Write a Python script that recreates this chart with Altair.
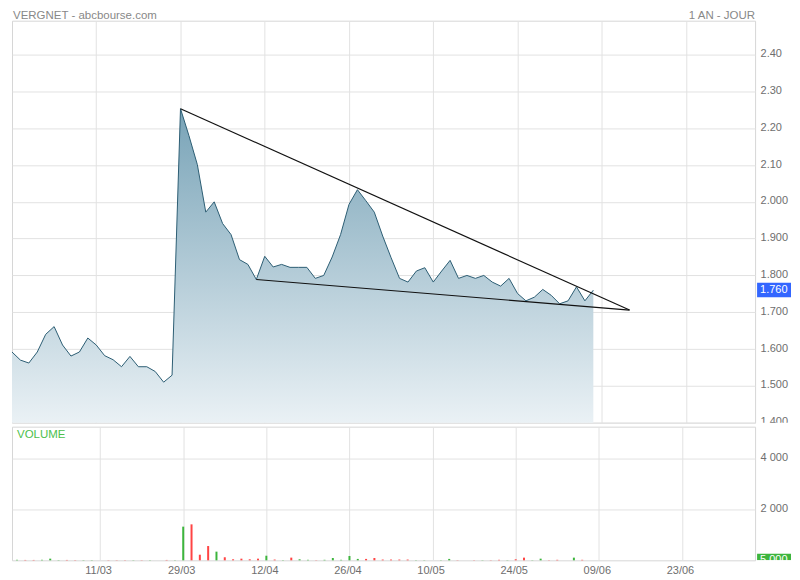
import altair as alt
import pandas as pd

# ---------------- data ----------------
prices = [1.592, 1.570, 1.562, 1.592, 1.640, 1.661, 1.611, 1.581, 1.592, 1.630,
          1.611, 1.582, 1.571, 1.552, 1.580, 1.552, 1.552, 1.539, 1.510, 1.529,
          2.253, 2.180, 2.101, 1.972, 2.000, 1.941, 1.911, 1.843, 1.830, 1.789,
          1.852, 1.823, 1.830, 1.822, 1.822, 1.822, 1.792, 1.800, 1.850, 1.911,
          1.993, 2.033, 2.003, 1.972, 1.907, 1.848, 1.792, 1.782, 1.812, 1.821,
          1.782, 1.812, 1.841, 1.792, 1.800, 1.792, 1.800, 1.782, 1.771, 1.792,
          1.751, 1.731, 1.741, 1.762, 1.746, 1.723, 1.731, 1.769, 1.731, 1.760]

volumes = [20, 15, 15, 20, 65, 10, 15, 15, 10, 10,
           0, 8, 8, 8, 8, 8, 8, 0, 15, 8,
           1320, 1410, 220, 560, 340, 120, 40, 65, 40, 65,
           180, 30, 10, 105, 40, 20, 8, 20, 90, 20,
           170, 55, 55, 90, 30, 30, 30, 30, 8, 8,
           0, 8, 55, 8, 0, 8, 8, 8, 20, 8,
           40, 105, 8, 65, 8, 20, 0, 105, 20, 0]

date_ticks = [10, 20, 30, 40, 50, 60, 70, 80]
date_labels = ["11/03", "29/03", "12/04", "26/04", "10/05", "24/05", "09/06", "23/06"]

price_ticks = [1.4, 1.5, 1.6, 1.7, 1.8, 1.9, 2.0, 2.1, 2.2, 2.3, 2.4]
price_labels = ["1.400", "1.500", "1.600", "1.700", "1.800", "1.900", "2.000",
                "2.10", "2.20", "2.30", "2.40"]

vol_ticks = [2000, 4000]
vol_labels = ["2 000", "4 000"]

upper_trend_x = [20, 73.3]
upper_trend_y = [2.253, 1.706]
lower_trend_x = [29, 73.3]
lower_trend_y = [1.789, 1.706]

header_left = "VERGNET - abcbourse.com"
header_right = "1 AN - JOUR"
volume_title = "VOLUME"
last_price_label = "1.760"
last_volume_label = "5 000"

# ---------------- tables ----------------
idx = list(range(len(prices)))
direction = ["up"] + ["up" if prices[k] >= prices[k - 1] else "down" for k in range(1, len(prices))]
df = pd.DataFrame({"i": idx, "price": prices, "vol": volumes, "dir": direction})
trend_df = pd.DataFrame({
    "x": [upper_trend_x[0], lower_trend_x[0]],
    "x2": [upper_trend_x[1], lower_trend_x[1]],
    "y": [upper_trend_y[0], lower_trend_y[0]],
    "y2": [upper_trend_y[1], lower_trend_y[1]],
})
one = pd.DataFrame({"k": [0]})

FONT = "Liberation Sans"
GRID = "#e2e2e2"
LABEL = "#6e6e6e"

W = 745
H_PRICE = 403
H_VOL = 134
BOX_R = W + 36

x_scale = alt.Scale(domain=[0, 88.2], nice=False, zero=False)
price_scale = alt.Scale(domain=[1.4, 1.4 + H_PRICE / 369], nice=False, zero=False)
vol_scale = alt.Scale(domain=[0, 5240], nice=False)

x_axis_top = alt.Axis(values=date_ticks, labels=False, ticks=False, domain=False,
                      grid=True, gridColor=GRID, title=None)
date_expr = "[" + ",".join("'" + s + "'" for s in date_labels) + "][round(datum.value/10) - 1]"
x_axis_bottom = alt.Axis(values=date_ticks, labelExpr=date_expr, ticks=False, domain=False,
                         grid=True, gridColor=GRID, title=None, labelPadding=4,
                         labelFontSize=11, labelColor=LABEL, labelFont=FONT,
                         labelFlush=False, labelOffset=-2)
price_expr = "[" + ",".join("'" + s + "'" for s in price_labels) + "][round(datum.value*10) - 14]"
y_axis_price = alt.Axis(orient="right", values=price_ticks, labelExpr=price_expr, ticks=False,
                        domain=False, grid=True, gridColor=GRID, title=None, labelPadding=5,
                        labelFontSize=11, labelColor=LABEL, labelFont=FONT, labelAlign="left",
                        labelBaseline="middle", labelOffset=-1)
vol_expr = "[" + ",".join("'" + s + "'" for s in vol_labels) + "][round(datum.value/2000) - 1]"
y_axis_vol = alt.Axis(orient="right", values=vol_ticks, labelExpr=vol_expr, ticks=False,
                      domain=False, grid=True, gridColor=GRID, title=None, labelPadding=5,
                      labelFontSize=11, labelColor=LABEL, labelFont=FONT, labelAlign="left",
                      labelBaseline="middle", labelOffset=-1)

gradient = alt.Gradient(
    gradient="linear",
    stops=[alt.GradientStop(color="#78a3b7", offset=0),
           alt.GradientStop(color="#eaf1f5", offset=1)],
    x1=1, x2=1, y1=0, y2=1,
)

base = alt.Chart(df)
area = base.mark_area(color=gradient, opacity=1).encode(
    x=alt.X("i:Q", scale=x_scale, axis=x_axis_top),
    y=alt.Y("price:Q", scale=price_scale, axis=y_axis_price),
    y2=alt.datum(1.4),
)
line = base.mark_line(color="#2c5d73", strokeWidth=1).encode(
    x=alt.X("i:Q", scale=x_scale, axis=x_axis_top),
    y=alt.Y("price:Q", scale=price_scale, axis=y_axis_price),
)
trend = alt.Chart(trend_df).mark_rule(color="#111111", strokeWidth=1.2).encode(
    x=alt.X("x:Q", scale=x_scale, axis=x_axis_top),
    x2="x2:Q",
    y=alt.Y("y:Q", scale=price_scale, axis=y_axis_price),
    y2="y2:Q",
)
last_box = alt.Chart(one).mark_rect(color="#3366ff").encode(
    x=alt.value(W + 2), x2=alt.value(BOX_R),
    y=alt.datum(prices[-1] + 0.02), y2=alt.datum(prices[-1] - 0.0195),
)
last_text = alt.Chart(one).mark_text(align="left", baseline="middle", color="white",
                                     fontSize=11, font=FONT, text=last_price_label).encode(
    x=alt.value(W + 5), y=alt.datum(prices[-1]),
)
head_l = alt.Chart(one).mark_text(align="left", baseline="alphabetic", color="#888888",
                                  fontSize=11.5, font=FONT, text=header_left).encode(
    x=alt.value(1), y=alt.value(-2),
)
head_r = alt.Chart(one).mark_text(align="right", baseline="alphabetic", color="#888888",
                                  fontSize=11.5, font=FONT, text=header_right).encode(
    x=alt.value(W), y=alt.value(-2),
)

price_chart = alt.layer(area, line, trend, last_box, last_text, head_l, head_r).properties(
    width=W, height=H_PRICE)

bars = base.mark_bar(size=2).encode(
    x=alt.X("i:Q", scale=x_scale, axis=x_axis_bottom),
    y=alt.Y("vol:Q", scale=vol_scale, axis=y_axis_vol),
    color=alt.Color("dir:N", scale=alt.Scale(domain=["up", "down"], range=["#3db53d", "#ff4444"]),
                    legend=None),
)
vol_title = alt.Chart(one).mark_text(align="left", baseline="middle", color="#4cc04c",
                                     fontSize=11.5, font=FONT, text=volume_title).encode(
    x=alt.value(5), y=alt.value(8),
)
cover_top = alt.Chart(one).mark_rect(color="white").encode(
    x=alt.value(W + 2), x2=alt.value(BOX_R), y=alt.value(-4), y2=alt.value(0),
)
vol_box = alt.Chart(one).mark_rect(color="#3db53d").encode(
    x=alt.value(W + 2), x2=alt.value(BOX_R), y=alt.value(127.5), y2=alt.value(H_VOL),
)
vol_text = alt.Chart(one).mark_text(align="left", baseline="top", color="white",
                                    fontSize=11, font=FONT, text=last_volume_label).encode(
    x=alt.value(W + 5), y=alt.value(128),
)
cover_bot = alt.Chart(one).mark_rect(color="white").encode(
    x=alt.value(W + 2), x2=alt.value(BOX_R), y=alt.value(H_VOL), y2=alt.value(H_VOL + 9),
)

vol_chart = alt.layer(bars, vol_title, cover_top, vol_box, vol_text, cover_bot).properties(
    width=W, height=H_VOL)

PAD = {"left": 1, "top": 0, "right": 0, "bottom": 0}
chart = alt.vconcat(price_chart, vol_chart, spacing=4, bounds="flush",
                    padding=PAD, background="white").configure(
    padding=PAD
).configure_view(stroke="#d6d6d6", strokeWidth=1)

chart.save("out.html", embed_options={"renderer": "svg", "actions": False})
